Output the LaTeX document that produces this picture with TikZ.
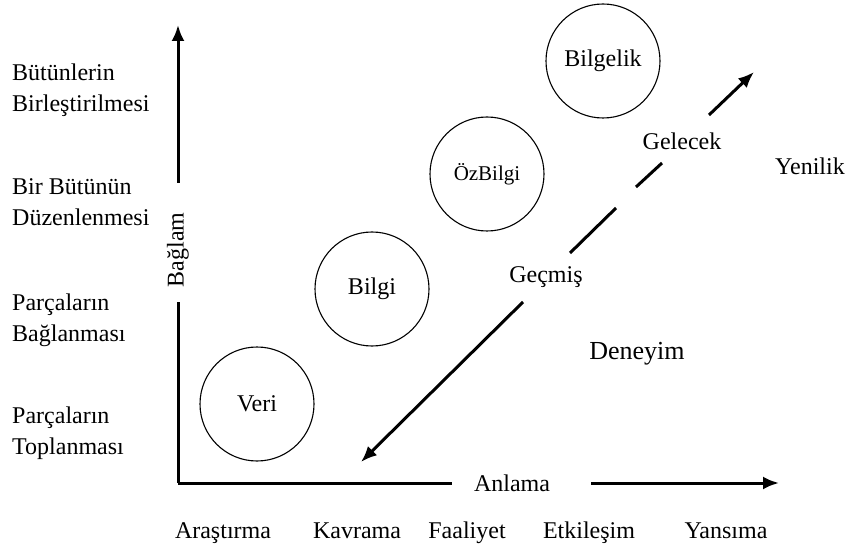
\documentclass[tikz,border=0pt]{standalone}
\usepackage{fontspec}
\setmainfont{Liberation Serif}
\usetikzlibrary{arrows.meta}
\begin{document}
\begin{tikzpicture}[x=1pt,y=-1pt,
  lbl/.style={font=\fontsize{24}{31}\selectfont, inner sep=0pt, align=left, anchor=north west},
  txt/.style={font=\fontsize{24}{28}\selectfont, inner sep=0pt, anchor=base},
  stage/.style={circle, draw, line width=1.1pt, minimum size=114pt, inner sep=0pt, font=\fontsize{24}{28}\selectfont},
  axis/.style={line width=3pt},
  arr/.style={line width=3pt, -{Latex[length=16pt,width=13pt]}}]
\useasboundingbox (0,0) rectangle (857,548);

% left labels
\node[lbl] (l4) at (12,63.5) {Bütünlerin\\Birleştirilmesi};
\node[lbl] (l3) at (12,178.5) {Bir Bütünün\\Düzenlenmesi};
\node[lbl] (l2) at (12,293.5) {Parçaların\\Bağlanması};
\node[lbl] (l1) at (12,406.5) {Parçaların\\Toplanması};

% bottom labels
\node[txt] (b1) at (223,538) {Araştırma};
\node[txt] (b2) at (357,538) {Kavrama};
\node[txt] (b3) at (467,538) {Faaliyet};
\node[txt] (b4) at (589,538) {Etkileşim};
\node[txt] (b5) at (726,538) {Yansıma};

% axes
\coordinate (O) at (178,483);
\coordinate (vgapA) at (178,302);
\coordinate (vgapB) at (178,183);
\coordinate (vtop) at (178,25);
\coordinate (hgapA) at (452,483);
\coordinate (hgapB) at (591,483);
\coordinate (hend) at (779,483);
\draw[axis] (O) -- (vgapA);
\draw[arr] (vgapB) -- (vtop);
\draw[axis] (O) -- (hgapA);
\draw[arr] (hgapB) -- (hend);
\node[txt, anchor=center, rotate=90] (baglam) at (178,250) {Bağlam};
\node[txt] (anlama) at (512,491) {Anlama};

% circles
\node[stage] (veri) at (257,404) {Veri};
\node[stage] (bilgi) at (372,289) {Bilgi};
\node[stage, font=\fontsize{21}{24}\selectfont] (ozbilgi) at (487,174) {ÖzBilgi};
\node[stage] (bilgelik) at (603,61) {Bilgelik};

% diagonal
\node[txt] (gecmis) at (546,283) {Geçmiş};
\node[txt] (gelecek) at (682,150) {Gelecek};
\node[txt] (yenilik) at (810,175) {Yenilik};
\node[txt, font=\fontsize{26}{30}\selectfont] (deneyim) at (637,359) {Deneyim};

\coordinate (p1) at (523,302);
\coordinate (ptip) at (361,462);
\coordinate (q1) at (570,253);
\coordinate (q2) at (616,208);
\coordinate (q3) at (636,187);
\coordinate (q4) at (662,163);
\coordinate (q5) at (709,115);
\coordinate (qtip) at (754,72);
\draw[arr] (p1) -- (ptip);
\draw[axis] (q1) -- (q2);
\draw[axis] (q3) -- (q4);
\draw[arr] (q5) -- (qtip);
\end{tikzpicture}
\end{document}
